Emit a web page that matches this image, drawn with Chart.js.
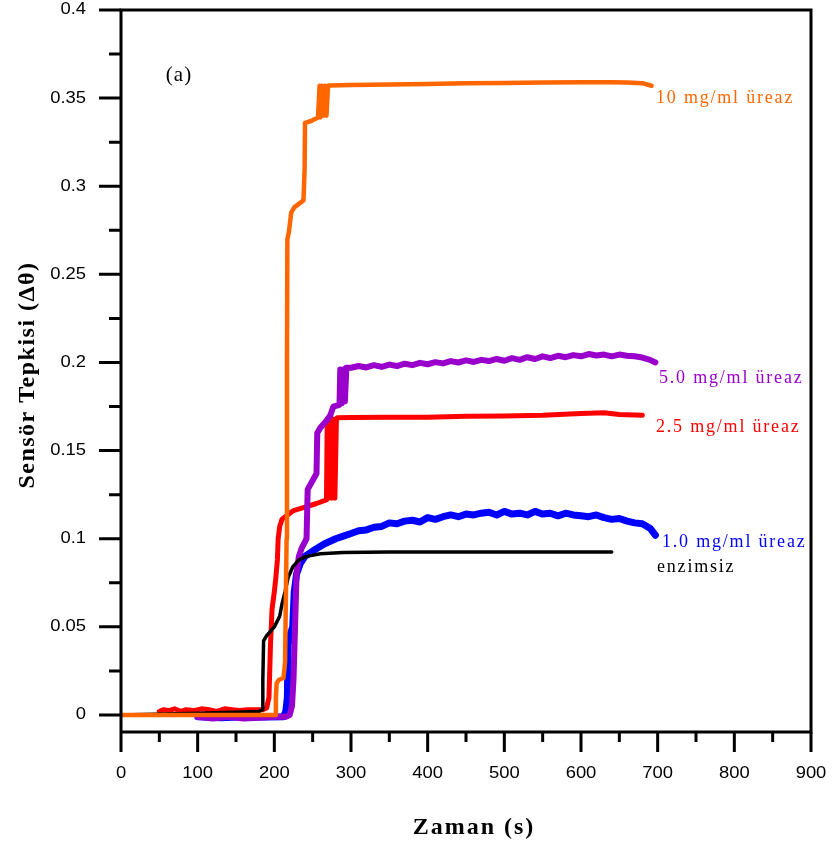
<!DOCTYPE html>
<html>
<head>
<meta charset="utf-8">
<script src="https://cdn.jsdelivr.net/npm/chart.js@4/dist/chart.umd.min.js"></script>
<style>
  body { margin: 0; background: #ffffff; }
  #wrap { width: 832px; height: 850px; }
</style>
</head>
<body>
<div id="wrap"><canvas id="sensorChart" width="832" height="850"></canvas></div>
<script>
// Axis ticks
const xTicks = [0, 100, 200, 300, 400, 500, 600, 700, 800, 900];
const xMinorTicks = [50, 150, 250, 350, 450, 550, 650, 750, 850];
const yTicks = [0, 0.05, 0.1, 0.15, 0.2, 0.25, 0.3, 0.35, 0.4];
const yTickLabels = ['0', '0.05', '0.1', '0.15', '0.2', '0.25', '0.3', '0.35', '0.4'];
const yMinorTicks = [0.025, 0.075, 0.125, 0.175, 0.225, 0.275, 0.325, 0.375];

// Series names and colours
const seriesNames = ['10 mg/ml üreaz', 'enzimsiz', '5.0 mg/ml üreaz', '1.0 mg/ml üreaz', '2.5 mg/ml üreaz'];
const seriesColors = ['#ff6600', '#000000', '#9900cc', '#0000ff', '#ff0000'];

// 10 mg/ml üreaz (orange)
const orangeTime = [0, 100, 190, 201, 202, 203, 206, 212, 214, 216, 216.5, 217, 219, 222, 226, 232, 238, 239.5, 240, 248, 257,
  259, 260, 262, 264, 266, 268, 270, 272, 300, 350, 400, 450, 500, 550, 600, 640, 660, 680, 692];
const orangeValue = [0, 0, 0, 0, 0.01, 0.018, 0.02, 0.021, 0.03, 0.1, 0.2, 0.27, 0.274, 0.285, 0.288, 0.29, 0.292, 0.31, 0.336, 0.337, 0.339,
  0.357, 0.339, 0.357, 0.34, 0.357, 0.34, 0.357, 0.3572, 0.3575, 0.3578, 0.358, 0.3584, 0.3586, 0.3588, 0.359, 0.359, 0.3588, 0.3585, 0.357];

// enzimsiz (black)
const blackTime = [0, 100, 180, 184, 185, 186, 190, 200, 207, 210, 214, 218, 224, 232, 242, 260, 290, 350, 640];
const blackValue = [0, 0.001, 0.002, 0.003, 0.02, 0.042, 0.045, 0.05, 0.056, 0.063, 0.07, 0.078, 0.084, 0.088, 0.09, 0.0915, 0.0922, 0.0925, 0.0925];

// 5.0 mg/ml üreaz (purple)
const purpleTime = [100, 120, 140, 160, 180, 200, 215, 220, 223, 225, 227, 229, 232, 236, 242, 243.5, 250, 255, 256, 260, 268, 273, 277, 285,
  286, 288, 290, 292, 294, 300, 310, 320, 330, 340, 350, 360, 370, 380, 390, 400, 410, 420, 430, 440, 450, 460, 470, 480, 490, 500,
  510, 520, 530, 540, 550, 560, 570, 580, 590, 600, 610, 620, 630, 640, 650, 660, 670, 680, 690, 697];
const purpleValue = [-0.001, -0.002, -0.001, -0.002, -0.0015, -0.001, -0.001, 0, 0.005, 0.02, 0.05, 0.08, 0.09, 0.095, 0.1, 0.128, 0.133, 0.137, 0.16, 0.163, 0.167, 0.17, 0.175, 0.176,
  0.196, 0.177, 0.196, 0.178, 0.197, 0.197, 0.198, 0.1972, 0.1985, 0.1975, 0.1988, 0.198, 0.1993, 0.1985, 0.1998, 0.199, 0.2002, 0.1995, 0.2008, 0.2, 0.2012, 0.2003, 0.2015, 0.2008, 0.202, 0.201,
  0.2025, 0.2015, 0.203, 0.202, 0.2035, 0.2025, 0.2038, 0.203, 0.2042, 0.2035, 0.2048, 0.204, 0.2045, 0.2035, 0.2045, 0.2038, 0.2035, 0.2028, 0.2015, 0.2];

// 1.0 mg/ml üreaz (blue)
const blueTime = [100, 130, 160, 190, 212, 215, 217, 218, 221, 224, 226, 229, 234, 240, 250, 265, 280, 290,
  300, 310, 320, 330, 340, 350, 360, 370, 380, 390, 400, 410, 420, 430, 440, 450, 460, 470, 480, 490, 500,
  510, 520, 530, 540, 550, 560, 570, 580, 590, 600, 610, 620, 630, 640, 650, 660, 670, 680, 690, 697];
const blueValue = [-0.001, -0.0015, -0.001, -0.0012, -0.001, 0.002, 0.01, 0.04, 0.046, 0.05, 0.07, 0.08, 0.086, 0.09, 0.093, 0.097, 0.1, 0.1015,
  0.103, 0.1045, 0.105, 0.1065, 0.107, 0.109, 0.1085, 0.11, 0.1105, 0.1095, 0.112, 0.111, 0.1125, 0.1135, 0.1125, 0.114, 0.1135, 0.1145, 0.115, 0.1135, 0.1155,
  0.114, 0.1145, 0.1135, 0.1155, 0.114, 0.1145, 0.113, 0.1145, 0.1135, 0.113, 0.1125, 0.1135, 0.112, 0.111, 0.1115, 0.11, 0.109, 0.1085, 0.106, 0.102];

// 2.5 mg/ml üreaz (red)
const redTime = [50, 55, 62, 70, 78, 85, 95, 105, 115, 125, 135, 145, 155, 165, 175, 185, 190, 193, 195, 197, 200, 202, 204, 205, 207, 210, 216, 225, 240, 255, 268,
  269, 271, 273, 275, 277, 279, 281, 282, 300, 350, 400, 450, 500, 550, 600, 630, 650, 680];
const redValue = [0.002, 0.003, 0.0025, 0.0035, 0.002, 0.003, 0.0025, 0.0035, 0.003, 0.002, 0.0035, 0.003, 0.0025, 0.003, 0.003, 0.003, 0.004, 0.01, 0.04, 0.06, 0.07, 0.078, 0.088, 0.1, 0.107, 0.111, 0.113, 0.116, 0.118, 0.12, 0.122,
  0.168, 0.123, 0.168, 0.123, 0.168, 0.123, 0.168, 0.1686, 0.1688, 0.169, 0.169, 0.1695, 0.1697, 0.17, 0.171, 0.1715, 0.1705, 0.17];

const seriesTimes = [orangeTime, blackTime, purpleTime, blueTime, redTime];
const seriesValues = [orangeValue, blackValue, purpleValue, blueValue, redValue];
const seriesWidths = [4.5, 3.5, 6, 7, 5];

// Builds {x, y} points from the arrays
function toPoints(times, values) {
  return times.map((t, i) => ({ x: t, y: values[i] }));
}

// Draws text stretched horizontally (the tick font looks wide)
function stretchedText(ctx, text, x, y, align, sx) {
  ctx.save();
  ctx.translate(x, y);
  ctx.scale(sx, 1);
  ctx.textAlign = align;
  ctx.fillText(text, 0, 0);
  ctx.restore();
}

// Frame, ticks, labels and titles
const framePlugin = {
  id: 'framePlugin',
  afterDatasetsDraw(chart) {
    const ctx = chart.ctx;
    const xs = chart.scales.x;
    const ys = chart.scales.y;
    const a = chart.chartArea;
    ctx.save();
    ctx.strokeStyle = '#000';
    ctx.lineWidth = 3;
    ctx.lineCap = 'butt';

    // box
    ctx.beginPath();
    ctx.moveTo(a.left, a.top);
    ctx.lineTo(a.right, a.top);
    ctx.moveTo(a.right, a.top - 1.5);
    ctx.lineTo(a.right, a.bottom);
    ctx.moveTo(a.left, a.top - 1.5);
    ctx.lineTo(a.left, a.bottom);
    ctx.moveTo(a.left, a.bottom);
    ctx.lineTo(a.right + 1.5, a.bottom);
    ctx.stroke();

    // x ticks
    ctx.beginPath();
    xTicks.forEach(v => {
      const px = xs.getPixelForValue(v);
      ctx.moveTo(px, a.bottom);
      ctx.lineTo(px, a.bottom + 20);
    });
    xMinorTicks.forEach(v => {
      const px = xs.getPixelForValue(v);
      ctx.moveTo(px, a.bottom);
      ctx.lineTo(px, a.bottom + 10);
    });
    // y ticks
    yTicks.forEach(v => {
      const py = ys.getPixelForValue(v);
      ctx.moveTo(a.left, py);
      ctx.lineTo(a.left - 22, py);
    });
    yMinorTicks.forEach(v => {
      const py = ys.getPixelForValue(v);
      ctx.moveTo(a.left, py);
      ctx.lineTo(a.left - 12, py);
    });
    ctx.stroke();

    // tick labels
    ctx.fillStyle = '#000';
    ctx.font = '16px "Liberation Sans", Arial, sans-serif';
    ctx.textBaseline = 'middle';
    xTicks.forEach(v => {
      stretchedText(ctx, String(v), xs.getPixelForValue(v), 774, 'center', 1.15);
    });
    yTicks.forEach((v, i) => {
      stretchedText(ctx, yTickLabels[i], 86, ys.getPixelForValue(v), 'right', 1.15);
    });

    // axis titles
    ctx.font = 'bold 24px "Liberation Serif", "Times New Roman", serif';
    ctx.letterSpacing = '2px';
    ctx.textAlign = 'center';
    ctx.fillText('Zaman (s)', 474, 828);

    ctx.save();
    ctx.translate(28, 375);
    ctx.rotate(-Math.PI / 2);
    ctx.font = 'bold 24px "Liberation Serif", "Times New Roman", serif';
    ctx.letterSpacing = '1.5px';
    ctx.fillText('Sensör Tepkisi (\u0394\u03b8)', 0, 0);
    ctx.restore();

    // panel letter
    ctx.font = '21px "Liberation Serif", "Times New Roman", serif';
    ctx.letterSpacing = '1px';
    ctx.fillText('(a)', 179, 75);

    // series labels
    const labelPos = [[656, 98], [657, 567], [659, 378], [662, 542], [656, 427]];
    ctx.font = '18px "Liberation Serif", "Times New Roman", serif';
    ctx.letterSpacing = '1.8px';
    ctx.textAlign = 'left';
    seriesNames.forEach((name, i) => {
      ctx.fillStyle = seriesColors[i];
      ctx.fillText(name, labelPos[i][0], labelPos[i][1]);
    });
    ctx.restore();
  },
};

const datasets = seriesNames.map((name, i) => ({
  label: name,
  data: toPoints(seriesTimes[i], seriesValues[i]),
  borderColor: seriesColors[i],
  borderWidth: seriesWidths[i],
  pointRadius: 0,
  tension: 0,
  fill: false,
  borderJoinStyle: 'round',
  borderCapStyle: 'round',
}));

new Chart(document.getElementById('sensorChart'), {
  type: 'line',
  data: { datasets: datasets },
  options: {
    responsive: false,
    animation: false,
    layout: { padding: { left: 121, right: 21, top: 10, bottom: 118 } },
    plugins: { legend: { display: false }, tooltip: { enabled: false } },
    scales: {
      x: { type: 'linear', min: 0, max: 900, display: false },
      y: { min: -0.00965, max: 0.4, display: false },
    },
  },
  plugins: [framePlugin],
});
</script>
</body>
</html>
